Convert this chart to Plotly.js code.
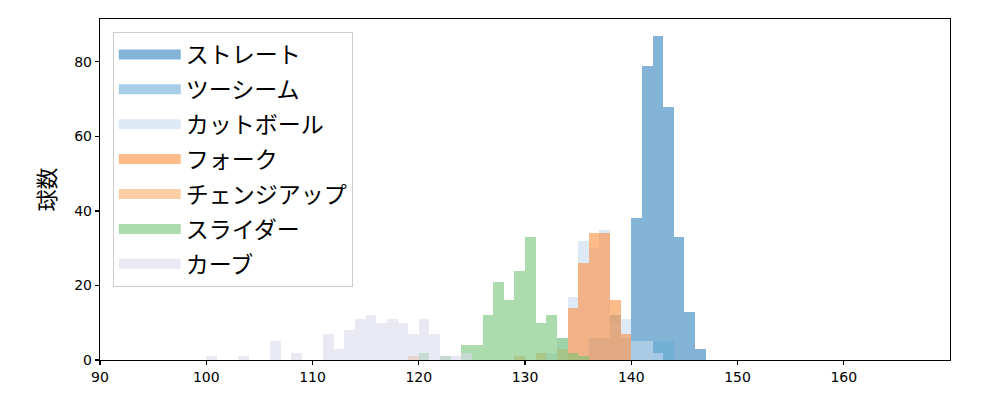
<!DOCTYPE html>
<html>
<head>
<meta charset="utf-8">
<script src="https://cdn.plot.ly/plotly-3.0.1.min.js"></script>
<style>
  html, body { margin: 0; padding: 0; background: #ffffff; }
  #chart { width: 1000px; height: 400px; }
</style>
</head>
<body>
<div id="chart"></div>
<script>
// Pitch types (legend order)
const pitchNames = ["ストレート", "ツーシーム", "カットボール", "フォーク", "チェンジアップ", "スライダー", "カーブ"];

// Histogram bins (left edge, km/h, width 1) and counts per pitch type
const straightBins = [140, 141, 142, 143, 144, 145, 146];
const straightCounts = [38, 79, 87, 68, 33, 13, 3];

const twoSeamBins = [136, 137, 138, 139, 142, 143];
const twoSeamCounts = [6, 6, 12, 6, 5, 5];

const cutBins = [132, 133, 134, 135, 136, 137, 138, 139, 140, 141, 142];
const cutCounts = [2, 6, 17, 32, 30, 35, 10, 11, 5, 5, 2];

const forkBins = [134, 135, 136, 137, 138, 139];
const forkCounts = [14, 26, 34, 34, 16, 7];

const changeupBins = [119, 129, 131, 133];
const changeupCounts = [1, 1, 2, 3];

const sliderBins = [120, 122, 124, 125, 126, 127, 128, 129, 130, 131, 132, 133, 134, 135];
const sliderCounts = [2, 1, 4, 4, 12, 21, 16, 24, 33, 10, 12, 6, 2, 1];

const curveBins = [100, 103, 106, 108, 111, 112, 113, 114, 115, 116, 117, 118, 119, 120, 121, 122, 123, 124];
const curveCounts = [1, 1, 5, 2, 7, 3, 8, 11, 12, 10, 11, 10, 7, 11, 7, 1, 1, 2];

const xTicks = [90, 100, 110, 120, 130, 140, 150, 160];
const yTicks = [0, 20, 40, 60, 80];

const seriesBins = [straightBins, twoSeamBins, cutBins, forkBins, changeupBins, sliderBins, curveBins];
const seriesCounts = [straightCounts, twoSeamCounts, cutCounts, forkCounts, changeupCounts, sliderCounts, curveCounts];
const seriesColors = ["#3182bd", "#6baed6", "#c6dbef", "#fd8d3c", "#fdae6b", "#74c476", "#dadaeb"];

function rgba(hex, a) {
  const r = parseInt(hex.slice(1, 3), 16), g = parseInt(hex.slice(3, 5), 16), b = parseInt(hex.slice(5, 7), 16);
  return `rgba(${r},${g},${b},${a})`;
}

const traces = [];
pitchNames.forEach((name, i) => {
  traces.push({
    type: "bar",
    name: name,
    x: seriesBins[i],
    y: seriesCounts[i],
    width: 1,
    offset: 0,
    marker: { color: rgba(seriesColors[i], 0.6), line: { width: 0 } },
    legendgroup: name,
    showlegend: false,
    hoverinfo: "x+y+name"
  });
});
// legend entries (wide patch look)
pitchNames.forEach((name, i) => {
  traces.push({
    type: "scatter",
    mode: "lines",
    name: name,
    x: [null],
    y: [null],
    line: { color: rgba(seriesColors[i], 0.6), width: 16 },
    legendgroup: name,
    showlegend: true
  });
});

const layout = {
  width: 1000,
  height: 400,
  margin: { l: 100, r: 50, t: 19, b: 40 },
  paper_bgcolor: "#ffffff",
  plot_bgcolor: "#ffffff",
  barmode: "overlay",
  bargap: 0,
  font: { family: "DejaVu Sans, 'Noto Sans CJK JP', sans-serif", color: "#000000", size: 14 },
  xaxis: {
    range: [90, 170],
    tickvals: xTicks,
    ticktext: xTicks.map(String),
    ticks: "outside",
    ticklen: 4,
    tickwidth: 1.2,
    tickcolor: "#000000",
    showgrid: false,
    zeroline: false,
    showline: true,
    linecolor: "#000000",
    linewidth: 1.2,
    mirror: true,
    tickfont: { size: 14, family: "DejaVu Sans, sans-serif" }
  },
  yaxis: {
    range: [0, 91.5],
    tickvals: yTicks,
    ticktext: yTicks.map(String),
    ticks: "outside",
    ticklen: 4,
    tickwidth: 1.2,
    tickcolor: "#000000",
    showgrid: false,
    zeroline: false,
    showline: true,
    linecolor: "#000000",
    linewidth: 1.2,
    mirror: true,
    tickfont: { size: 14, family: "DejaVu Sans, sans-serif" },
    title: { text: "球数", font: { size: 22, family: "'Noto Sans CJK JP', sans-serif" }, standoff: 12 }
  },
  legend: {
    x: 0.015,
    y: 0.962,
    xanchor: "left",
    yanchor: "top",
    bgcolor: "rgba(255,255,255,0.8)",
    bordercolor: "#cccccc",
    borderwidth: 1,
    font: { size: 23, family: "'Noto Sans CJK JP', sans-serif", color: "#000000" },
    tracegroupgap: 2,
    itemwidth: 62
  },
  showlegend: true
};

Plotly.newPlot("chart", traces, layout, { displayModeBar: false, staticPlot: true });
</script>
</body>
</html>
